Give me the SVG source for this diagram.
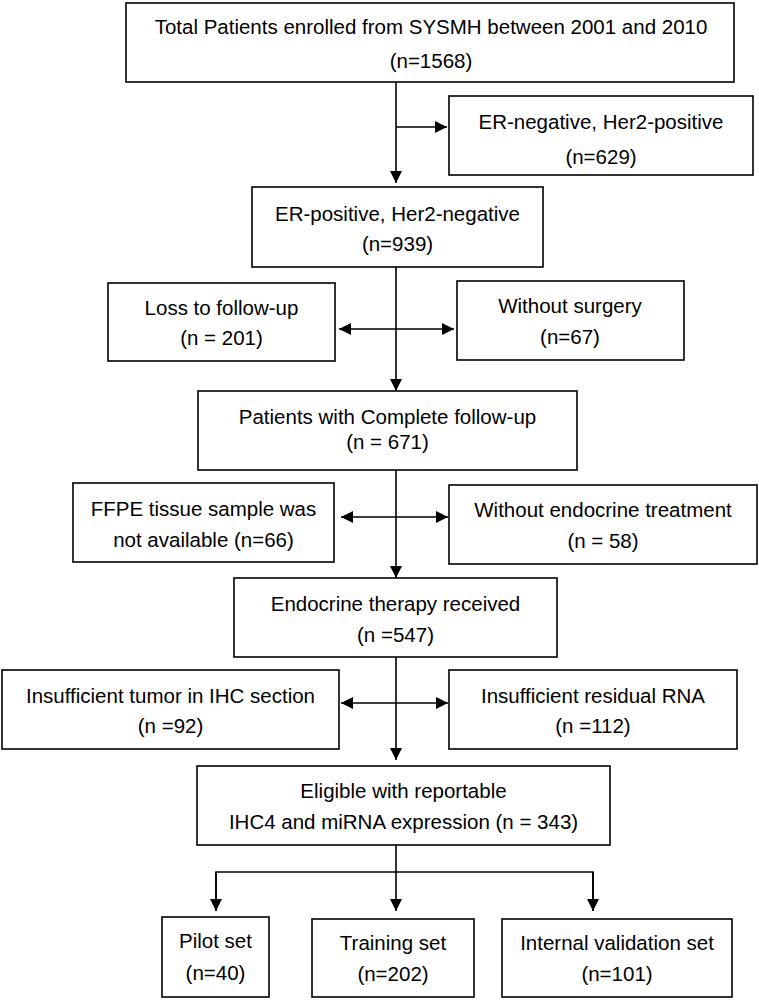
<svg xmlns="http://www.w3.org/2000/svg" width="759" height="1000" viewBox="0 0 759 1000">
<style>
.box{fill:#fff;stroke:#000;stroke-width:1.6}
.t{font-family:"Liberation Sans",Arial,sans-serif;font-size:20.5px;fill:#000;text-anchor:middle}
.c{stroke:#000;stroke-width:1.6;fill:none}
</style>
<defs>
<marker id="ah" viewBox="0 0 12 12" refX="12" refY="6" markerWidth="12" markerHeight="12" markerUnits="userSpaceOnUse" orient="auto-start-reverse">
<path d="M0,0 L12,6 L0,12 z" fill="#000"/>
</marker>
</defs>
<rect width="759" height="1000" fill="#fff"/>
<g id="connectors">
<line class="c" x1="396" y1="82" x2="396" y2="183" marker-end="url(#ah)"/>
<line class="c" x1="396" y1="127" x2="447" y2="127" marker-end="url(#ah)"/>
<line class="c" x1="396" y1="267" x2="396" y2="391" marker-end="url(#ah)"/>
<line class="c" x1="339" y1="329" x2="454" y2="329" marker-start="url(#ah)" marker-end="url(#ah)"/>
<line class="c" x1="396" y1="470" x2="396" y2="578" marker-end="url(#ah)"/>
<line class="c" x1="341" y1="517" x2="448" y2="517" marker-start="url(#ah)" marker-end="url(#ah)"/>
<line class="c" x1="396" y1="657" x2="396" y2="760" marker-end="url(#ah)"/>
<line class="c" x1="341" y1="703" x2="448" y2="703" marker-start="url(#ah)" marker-end="url(#ah)"/>
<line class="c" x1="396" y1="845" x2="396" y2="911" marker-end="url(#ah)"/>
<polyline class="c" points="216,911 216,872 593,872 593,911"/>
<line class="c" x1="216" y1="872" x2="216" y2="911" marker-end="url(#ah)"/>
<line class="c" x1="593" y1="872" x2="593" y2="911" marker-end="url(#ah)"/>
</g>
<g id="total">
<rect class="box" x="126" y="3" width="608" height="79"/>
<text class="t" x="431" y="34">Total Patients enrolled from SYSMH between 2001 and 2010</text>
<text class="t" x="431" y="68">(n=1568)</text>
</g>
<g id="erneg">
<rect class="box" x="449" y="96" width="304" height="79"/>
<text class="t" x="601" y="129">ER-negative, Her2-positive</text>
<text class="t" x="601" y="164">(n=629)</text>
</g>
<g id="erpos">
<rect class="box" x="252" y="187" width="291" height="80"/>
<text class="t" x="397.5" y="221">ER-positive, Her2-negative</text>
<text class="t" x="397.5" y="251">(n=939)</text>
</g>
<g id="loss">
<rect class="box" x="108" y="283" width="227" height="78"/>
<text class="t" x="221.5" y="315">Loss to follow-up</text>
<text class="t" x="221.5" y="345">(n = 201)</text>
</g>
<g id="nosurgery">
<rect class="box" x="457" y="281" width="227" height="79"/>
<text class="t" x="570" y="313">Without surgery</text>
<text class="t" x="570" y="344">(n=67)</text>
</g>
<g id="complete">
<rect class="box" x="198" y="391" width="379" height="79"/>
<text class="t" x="387.5" y="424">Patients with Complete follow-up</text>
<text class="t" x="387.5" y="449">(n = 671)</text>
</g>
<g id="ffpe">
<rect class="box" x="73" y="483" width="261" height="79"/>
<text class="t" x="203.5" y="516">FFPE tissue sample was</text>
<text class="t" x="203.5" y="547">not available (n=66)</text>
</g>
<g id="noendo">
<rect class="box" x="449" y="485" width="308" height="79"/>
<text class="t" x="603" y="517">Without endocrine treatment</text>
<text class="t" x="603" y="548">(n = 58)</text>
</g>
<g id="endo">
<rect class="box" x="234" y="578" width="323" height="79"/>
<text class="t" x="395.5" y="611">Endocrine therapy received</text>
<text class="t" x="395.5" y="642">(n =547)</text>
</g>
<g id="ihc">
<rect class="box" x="2" y="670" width="337" height="79"/>
<text class="t" x="170.5" y="703">Insufficient tumor in IHC section</text>
<text class="t" x="170.5" y="733">(n =92)</text>
</g>
<g id="rna">
<rect class="box" x="449" y="670" width="288" height="79"/>
<text class="t" x="593" y="703">Insufficient residual RNA</text>
<text class="t" x="593" y="733">(n =112)</text>
</g>
<g id="eligible">
<rect class="box" x="197" y="766" width="413" height="79"/>
<text class="t" x="403.5" y="798">Eligible with reportable</text>
<text class="t" x="403.5" y="829">IHC4 and miRNA expression (n = 343)</text>
</g>
<g id="pilot">
<rect class="box" x="162" y="917" width="107" height="80"/>
<text class="t" x="215.5" y="948">Pilot set</text>
<text class="t" x="215.5" y="980">(n=40)</text>
</g>
<g id="training">
<rect class="box" x="312" y="919" width="162" height="78"/>
<text class="t" x="393" y="950">Training set</text>
<text class="t" x="393" y="981">(n=202)</text>
</g>
<g id="internal">
<rect class="box" x="502" y="919" width="230" height="78"/>
<text class="t" x="617" y="950">Internal validation set</text>
<text class="t" x="617" y="981">(n=101)</text>
</g>
</svg>
